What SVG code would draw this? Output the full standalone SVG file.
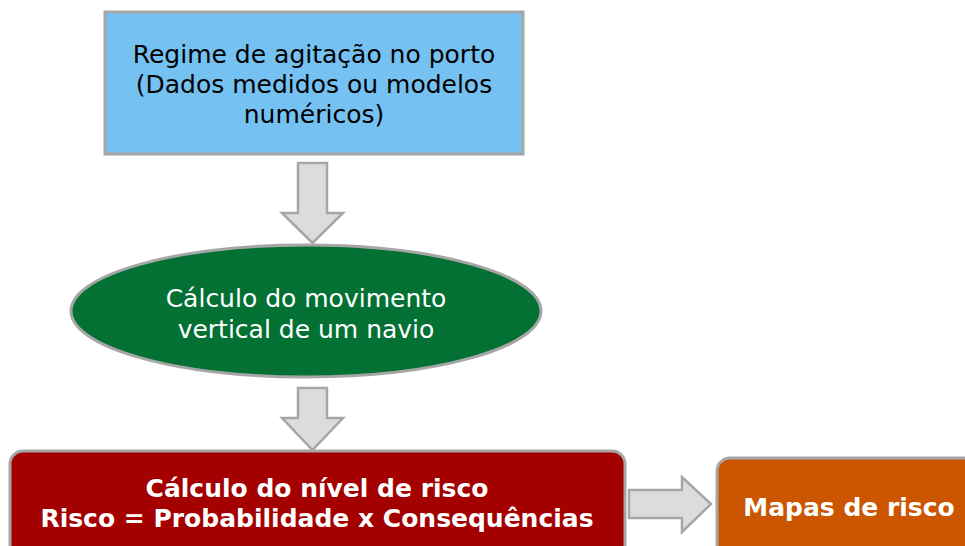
<svg xmlns="http://www.w3.org/2000/svg" width="965" height="546" viewBox="0 0 965 546">
<style>
.t{font-family:"DejaVu Sans","Verdana",sans-serif;font-size:25px;text-anchor:middle}
.b{font-family:"DejaVu Sans","Verdana",sans-serif;font-size:25px;font-weight:bold;text-anchor:middle;fill:#fff}
.arrow{fill:#DCDCDC;stroke:#A6A6A6;stroke-width:2.5}
.node{stroke:#A6A6A6;stroke-width:3}
</style>
<rect width="965" height="546" fill="#fff"/>
<g id="connectors">
<path class="arrow" d="M298,163 H327 V213 H343 L312.5,243 L282,213 H298 Z"/>
<path class="arrow" d="M298,388 H327 V418 H343 L312.5,450 L282,418 H298 Z"/>
<path class="arrow" d="M629,490 H682 V477 L711,504 L682,532 V518 H629 Z"/>
</g>
<g id="regime">
<rect class="node" x="105" y="12" width="418" height="142" fill="#74C1F2"/>
<text class="t" x="314" y="63" fill="#000">Regime de agitação no porto</text>
<text class="t" x="314" y="93" fill="#000">(Dados medidos ou modelos</text>
<text class="t" x="314" y="123" fill="#000">numéricos)</text>
</g>
<g id="movimento">
<ellipse class="node" cx="306" cy="311" rx="235" ry="66" fill="#037133"/>
<text class="t" x="306" y="307" fill="#fff">Cálculo do movimento</text>
<text class="t" x="306" y="338" fill="#fff">vertical de um navio</text>
</g>
<g id="risco">
<rect class="node" x="10" y="451" width="615" height="120" rx="13" fill="#A50000"/>
<text class="b" x="317" y="497">Cálculo do nível de risco</text>
<text class="b" x="317" y="527">Risco = Probabilidade x Consequências</text>
</g>
<g id="mapas">
<rect class="node" x="717" y="458" width="280" height="120" rx="13" fill="#CC5500"/>
<text class="b" x="849" y="516">Mapas de risco</text>
</g>
</svg>
